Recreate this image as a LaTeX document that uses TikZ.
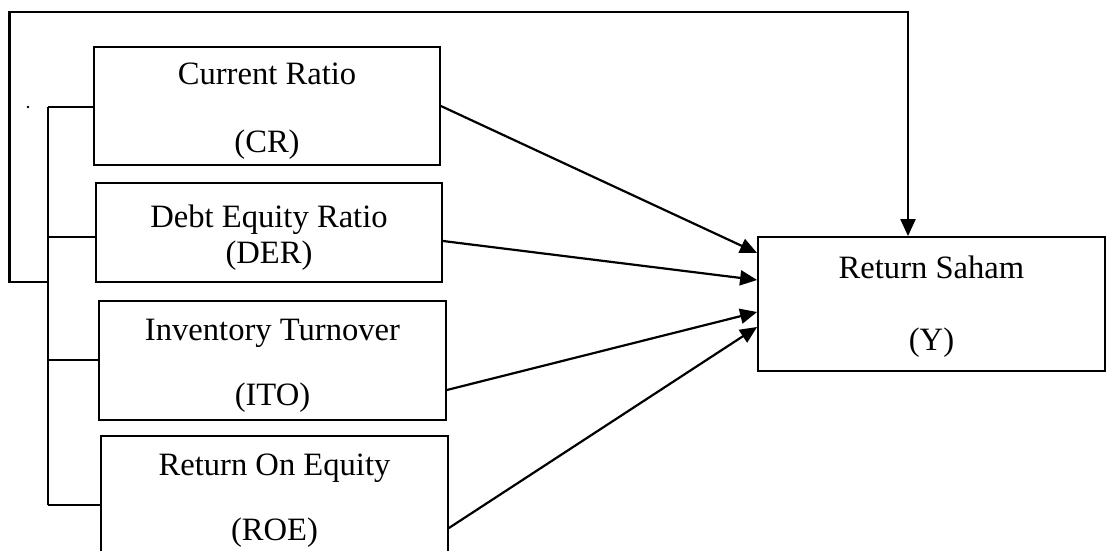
\documentclass[tikz,border=0pt]{standalone}
\usepackage{fontspec}
\setmainfont{Liberation Serif}
\usetikzlibrary{arrows.meta}
\tikzset{
  box/.style={draw, line width=1.8pt, rectangle, inner sep=0pt},
  lbl/.style={align=center, inner sep=0pt, yshift=-5.5pt,
              font=\fontsize{32.6}{36}\selectfont},
  conn/.style={line width=2pt},
  arr/.style={line width=2.2pt, -{Triangle[length=17pt,width=15pt]}},
}
\begin{document}
\begin{tikzpicture}[x=1pt,y=-1pt]
\useasboundingbox (0,0) rectangle (1112,551);
\clip (0,0) rectangle (1112,551);
\fill[white] (0,0) rectangle (1112,551);

\node[box, minimum width=346pt, minimum height=118pt,
  label={[lbl]center:Current Ratio\\[32pt](CR)}] (CR) at (267,106) {};
\node[box, minimum width=346pt, minimum height=99pt,
  label={[lbl]center:Debt Equity Ratio\\(DER)}] (DER) at (269,232.5) {};
\node[box, minimum width=347pt, minimum height=119pt,
  label={[lbl]center:Inventory Turnover\\[29pt](ITO)}] (ITO) at (272.5,360.5) {};
\node[box, minimum width=347pt, minimum height=119pt,
  label={[lbl]center:Return On Equity\\[29pt](ROE)}] (ROE) at (274.5,495.5) {};
\node[box, minimum width=347pt, minimum height=134pt,
  label={[lbl,yshift=2.5pt]center:Return Saham\\[36pt](Y)}] (RS) at (931.5,304) {};

% bracket on the left
\coordinate (b1) at (48,107);
\coordinate (b2) at (48,237);
\coordinate (b3) at (48,360);
\coordinate (b4) at (48,505);
\coordinate (b5) at (48,282);
\coordinate (tl) at (9.5,12);
\draw[conn] (b1) -- (b4);
\draw[conn] (b1) -- (b1 -| CR.west);
\draw[conn] (b2) -- (b2 -| DER.west);
\draw[conn] (b3) -- (b3 -| ITO.west);
\draw[conn] (b4) -- (b4 -| ROE.west);
\draw[arr] (b5) -| (tl) -| ([xshift=-23.5pt]RS.north);

% small dot
\fill (28,107) circle (1.4pt);

% arrows into Return Saham
\draw[arr] ([yshift=0pt]CR.east) -- ([yshift=51pt]RS.west);
\draw[arr] ([yshift=-8.5pt]DER.east) -- ([yshift=24pt]RS.west);
\draw[arr] ([yshift=-29.5pt]ITO.east) -- ([yshift=-8pt]RS.west);
\draw[arr] ([yshift=-32.5pt]ROE.east) -- ([yshift=-23pt]RS.west);
\end{tikzpicture}
\end{document}
